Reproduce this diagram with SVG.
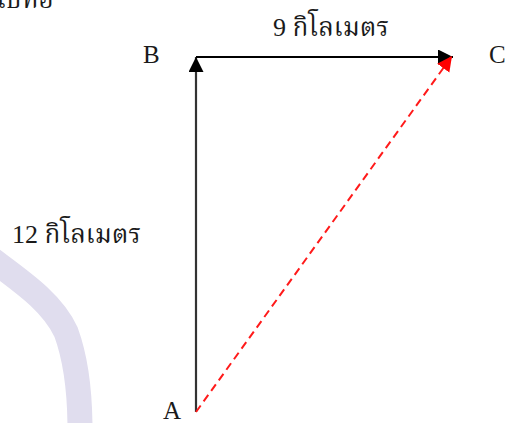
<svg xmlns="http://www.w3.org/2000/svg" width="507" height="423" viewBox="0 0 507 423">
  <style>
    .lbl { font-family: "Liberation Serif", "Noto Serif Thai", "Noto Sans Thai", serif; font-size: 25px; fill: #1a1a1a; }
    .thai { font-family: "Liberation Serif", "Noto Serif Thai", "Noto Sans Thai", "Noto Sans", serif; font-size: 26px; fill: #1a1a1a; }
    .solid { fill: none; stroke-width: 2.2; }
    .dash { fill: none; stroke: #ff1a1a; stroke-width: 2; stroke-dasharray: 8 5; }
  </style>
  <defs>
    <marker id="arrBlack" markerUnits="userSpaceOnUse" markerWidth="16" markerHeight="16" refX="15" refY="7.5" orient="auto">
      <path d="M0,0 L15,7.5 L0,15 z" fill="#000"/>
    </marker>
    <marker id="arrRed" markerUnits="userSpaceOnUse" markerWidth="16" markerHeight="16" refX="15" refY="7.5" orient="auto">
      <path d="M0,0 L15,7.5 L0,15 z" fill="#ff0000"/>
    </marker>
  </defs>
  <rect width="507" height="423" fill="#ffffff"/>
  <path d="M-10,258 C22,282 52,302 66,332 C77,362 80,395 80,430" fill="none" stroke="#e0ddee" stroke-width="25"/>
  <text class="thai" x="-4" y="8">ไปทอ</text>

  <g id="connectors">
    <path id="AB" class="solid" stroke="#333333" d="M196,412 L196,57" marker-end="url(#arrBlack)"/>
    <path id="BC" class="solid" stroke="#000000" d="M196,57 L453,57" marker-end="url(#arrBlack)"/>
    <path id="AC" class="dash" d="M196,412 L452,56" marker-end="url(#arrRed)"/>
    <text class="thai" x="273" y="36">9 กิโลเมตร</text>
    <text class="thai" x="12" y="243">12 กิโลเมตร</text>
  </g>

  <g id="node-A"><text class="lbl" x="163" y="419">A</text></g>
  <g id="node-B"><text class="lbl" x="143" y="63">B</text></g>
  <g id="node-C"><text class="lbl" x="489" y="63">C</text></g>
</svg>
